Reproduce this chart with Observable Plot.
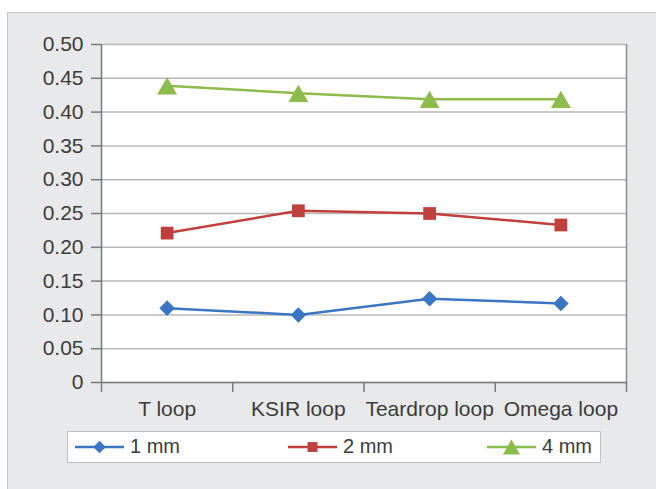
<!DOCTYPE html>
<html>
<head>
<meta charset="utf-8">
<script src="https://cdn.jsdelivr.net/npm/d3@7"></script>
<script src="https://cdn.jsdelivr.net/npm/@observablehq/plot@0.6"></script>
<style>
  html, body { margin: 0; padding: 0; background: #ffffff; }
  body { width: 656px; height: 489px; position: relative; overflow: hidden; font-family: "Liberation Sans", Arial, sans-serif; }
  #panel { position: absolute; left: 7px; top: 12px; width: 660px; height: 490px; background: #e8e9ea; border: 1px solid #c6c6c6; box-sizing: border-box; }
  #chart { position: absolute; left: 0; top: 0; }
  #legend { position: absolute; left: 67px; top: 431px; width: 534px; height: 32px; background: #ffffff; border: 1.5px solid #c2c2c2; box-sizing: border-box; }
  .item { position: absolute; top: 0; height: 29px; display: flex; align-items: center; font-size: 20px; color: #3b3b3b; }
  .item svg { display: block; margin-right: 6px; }
</style>
</head>
<body>
<div id="panel"></div>
<div id="chart"></div>
<div id="legend"></div>
<script>
const categories = ["T loop", "KSIR loop", "Teardrop loop", "Omega loop"];
const series = ["1 mm", "2 mm", "4 mm"];
const values1mm = [0.110, 0.100, 0.124, 0.117];
const values2mm = [0.221, 0.254, 0.250, 0.233];
const values4mm = [0.439, 0.428, 0.419, 0.419];
const yTicks = [0, 0.05, 0.10, 0.15, 0.20, 0.25, 0.30, 0.35, 0.40, 0.45, 0.50];
const colors = ["#3b76c3", "#c0403e", "#8dbb4c"];
const symbols = ["diamond2", "square", "triangle"];

const seriesValues = [values1mm, values2mm, values4mm];
const data = [];
series.forEach((s, si) => {
  seriesValues[si].forEach((v, i) => data.push({i, category: categories[i], series: s, value: v}));
});
const boundaries = d3.range(categories.length + 1).map(k => k - 0.5);

const chart = Plot.plot({
  width: 656,
  height: 425,
  marginLeft: 101,
  marginRight: 30,
  marginTop: 44,
  marginBottom: 43,
  style: {background: "transparent", fontFamily: "'Liberation Sans', Arial, sans-serif", fontSize: "21px", color: "#3b3b3b"},
  x: {type: "linear", domain: [-0.5, categories.length - 0.5]},
  y: {domain: [0, 0.5]},
  color: {domain: series, range: colors},
  symbol: {domain: series, range: symbols},
  marks: [
    Plot.frame({fill: "white", stroke: "none"}),
    Plot.gridY(yTicks, {stroke: "#b8b8b8", strokeOpacity: 1, strokeWidth: 1.5}),
    Plot.ruleX([categories.length - 0.5], {stroke: "#8c8c8c", strokeWidth: 1.5}),
    Plot.axisY(yTicks, {tickSize: 10, tickPadding: 8, stroke: "#7a7a7a", strokeWidth: 1.5,
      tickFormat: d => d === 0 ? "0" : d.toFixed(2), label: null}),
    Plot.ruleX([-0.5], {stroke: "#7a7a7a", strokeWidth: 1.5}),
    Plot.ruleY([0], {stroke: "#7a7a7a", strokeWidth: 1.5}),
    Plot.axisX(boundaries, {tickSize: 10, stroke: "#7a7a7a", strokeWidth: 1.5, tickFormat: () => "", label: null}),
    Plot.axisX(d3.range(categories.length), {tickSize: 0, tickPadding: 19, tickFormat: i => categories[i], label: null}),
    Plot.line(data, {x: "i", y: "value", z: "series", stroke: "series", strokeWidth: 2.5}),
    Plot.dot(data.filter(d => d.series === series[0]), {x: "i", y: "value", symbol: "series", fill: "series", r: 7, stroke: "none"}),
    Plot.dot(data.filter(d => d.series === series[1]), {x: "i", y: "value", symbol: "series", fill: "series", r: 7.2, stroke: "none"}),
    Plot.dot(data.filter(d => d.series === series[2]), {x: "i", y: "value", symbol: "series", fill: "series", r: 7.4, dy: 3, stroke: "none"})
  ]
});
document.getElementById("chart").appendChild(chart);

// Legend
const legend = document.getElementById("legend");
const itemLeft = [7, 220, 419];
const ns = "http://www.w3.org/2000/svg";
series.forEach((s, si) => {
  const div = document.createElement("div");
  div.className = "item";
  div.style.left = itemLeft[si] + "px";
  const svg = document.createElementNS(ns, "svg");
  svg.setAttribute("width", 49);
  svg.setAttribute("height", 20);
  const line = document.createElementNS(ns, "line");
  line.setAttribute("x1", 0); line.setAttribute("x2", 49);
  line.setAttribute("y1", 10); line.setAttribute("y2", 10);
  line.setAttribute("stroke", colors[si]); line.setAttribute("stroke-width", 2.5);
  svg.appendChild(line);
  const sym = {diamond2: d3.symbolDiamond2, square: d3.symbolSquare, triangle: d3.symbolTriangle}[symbols[si]];
  const sizes = [5.6, 5.6, 6.4];
  const path = document.createElementNS(ns, "path");
  path.setAttribute("d", d3.symbol(sym, sizes[si] * sizes[si] * Math.PI)());
  path.setAttribute("transform", `translate(24.5,${si === 2 ? 12.5 : 10})`);
  path.setAttribute("fill", colors[si]);
  svg.appendChild(path);
  div.appendChild(svg);
  const span = document.createElement("span");
  span.textContent = s;
  div.appendChild(span);
  legend.appendChild(div);
});
</script>
</body>
</html>
